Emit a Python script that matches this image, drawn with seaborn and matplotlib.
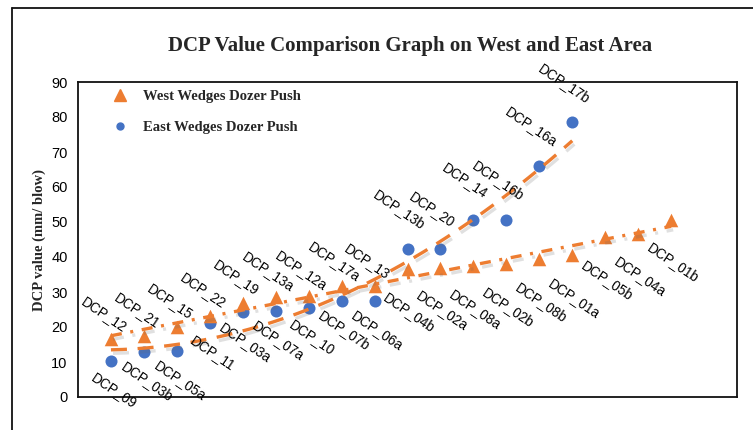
import numpy as np
import pandas as pd
import matplotlib
matplotlib.use("Agg")
import matplotlib.pyplot as plt
import matplotlib.patheffects as pe
from matplotlib.lines import Line2D
import seaborn as sns

# Data
west_labels = ["DCP_12", "DCP_21", "DCP_15", "DCP_22", "DCP_19", "DCP_13a", "DCP_12a", "DCP_17a", "DCP_13",
               "DCP_04b", "DCP_02a", "DCP_08a", "DCP_02b", "DCP_08b", "DCP_01a", "DCP_05b", "DCP_04a", "DCP_01b"]
west_values = [16.5, 17.5, 20.0, 23.2, 27.0, 28.5, 28.9, 31.6, 31.6,
               36.5, 37.0, 37.3, 37.9, 39.3, 40.5, 45.6, 46.7, 50.7]
east_labels = ["DCP_09", "DCP_03b", "DCP_05a", "DCP_11", "DCP_03a", "DCP_07a", "DCP_10", "DCP_07b", "DCP_06a",
               "DCP_13b", "DCP_20", "DCP_14", "DCP_16b", "DCP_16a", "DCP_17b"]
east_values = [10.3, 12.9, 13.2, 21.1, 24.2, 24.6, 25.5, 27.4, 27.4,
               42.4, 42.4, 50.7, 50.7, 66.1, 78.5]
series_names = ["West Wedges Dozer Push", "East Wedges Dozer Push"]
y_ticks = [0, 10, 20, 30, 40, 50, 60, 70, 80, 90]

orange = "#ED7D31"
blue = "#4472C4"

west = pd.DataFrame({"x": np.arange(1, len(west_values) + 1), "value": west_values, "label": west_labels})
east = pd.DataFrame({"x": np.arange(1, len(east_values) + 1), "value": east_values, "label": east_labels})

sns.set_style("white")
plt.rcParams["font.family"] = ["Liberation Sans", "DejaVu Sans"]

fig = plt.figure(figsize=(7.53, 4.30), dpi=100)
ax = fig.add_axes([78 / 753, 1 - 397 / 430, 659 / 753, 315 / 430])

sns.scatterplot(data=east, x="x", y="value", marker="o", s=75, color=blue, linewidth=0, ax=ax, zorder=3)
sns.scatterplot(data=west, x="x", y="value", marker="^", s=95, color=orange, linewidth=0, ax=ax, zorder=3)

# trend lines (fitted from the points), with a soft grey shadow
shadow = [pe.SimpleLineShadow(offset=(1.5, -2.5), shadow_color="0.4", alpha=0.2), pe.Normal()]
xe = np.linspace(1, len(east_values), 200)
ce = np.polyfit(east["x"], east["value"], 2)
ax.plot(xe, np.polyval(ce, xe), color=orange, lw=2.4, dashes=(4.8, 3.2), zorder=4, path_effects=shadow)
xw = np.linspace(1, len(west_values), 200)
cw = np.polyfit(west["x"], west["value"], 1)
ax.plot(xw, np.polyval(cw, xw), color=orange, lw=2.4, dashes=(3.3, 2.6, 0.9, 2.6), zorder=4, path_effects=shadow)

# data labels: placed away from the other series
offsets = {("east", True): (-8, 39), ("east", False): (3, -30),
           ("west", True): (-7, 25), ("west", False): (2, -43)}
for name, df, other in [("east", east, west_values), ("west", west, east_values)]:
    for i, row in df.iterrows():
        above = i < len(other) and row["value"] > other[i]
        dx, dy = offsets[(name, above)]
        ax.annotate(row["label"], (row["x"], row["value"]), xytext=(dx, dy), textcoords="offset pixels",
                    ha="center", va="center", rotation=-34, fontsize=9.8, color="black", zorder=5)

ax.set_xlim(0, 20)
ax.set_ylim(0, 90)
ax.set_yticks(y_ticks)
ax.set_xticks([])
ax.set_xlabel("")
ax.set_ylabel("")
ax.tick_params(axis="y", direction="inout", length=9, width=1.2, labelsize=10.5, colors="black", pad=3)
for sp in ax.spines.values():
    sp.set_color("#111111")
    sp.set_linewidth(1.3)

handles = [Line2D([], [], marker="^", color=orange, linestyle="none", markersize=8),
           Line2D([], [], marker="o", color=blue, linestyle="none", markersize=5)]
ax.legend(handles, series_names, loc="upper left", bbox_to_anchor=(0.0527, 0.975), frameon=False,
          borderpad=0, borderaxespad=0, handlelength=1.0, handletextpad=1.07, labelspacing=1.2,
          prop={"family": "Liberation Serif", "weight": "bold", "size": 10.5})

fig.text(0.545, 0.892, "DCP Value Comparison Graph on West and East Area", ha="center", va="center",
         family="Liberation Serif", weight="bold", size=15)
fig.text(39 / 753, 0.442, "DCP value (mm/ blow)", rotation=90, ha="center", va="center",
         family="Liberation Serif", weight="bold", size=10.5)

# outer chart frame
fig.add_artist(Line2D([12 / 753, 12 / 753], [0, 1 - 8 / 430], transform=fig.transFigure, color="#111111", lw=1.3))
fig.add_artist(Line2D([12 / 753, 1], [1 - 8 / 430, 1 - 8 / 430], transform=fig.transFigure, color="#111111", lw=1.3))

fig.savefig("out.png", dpi=100)
